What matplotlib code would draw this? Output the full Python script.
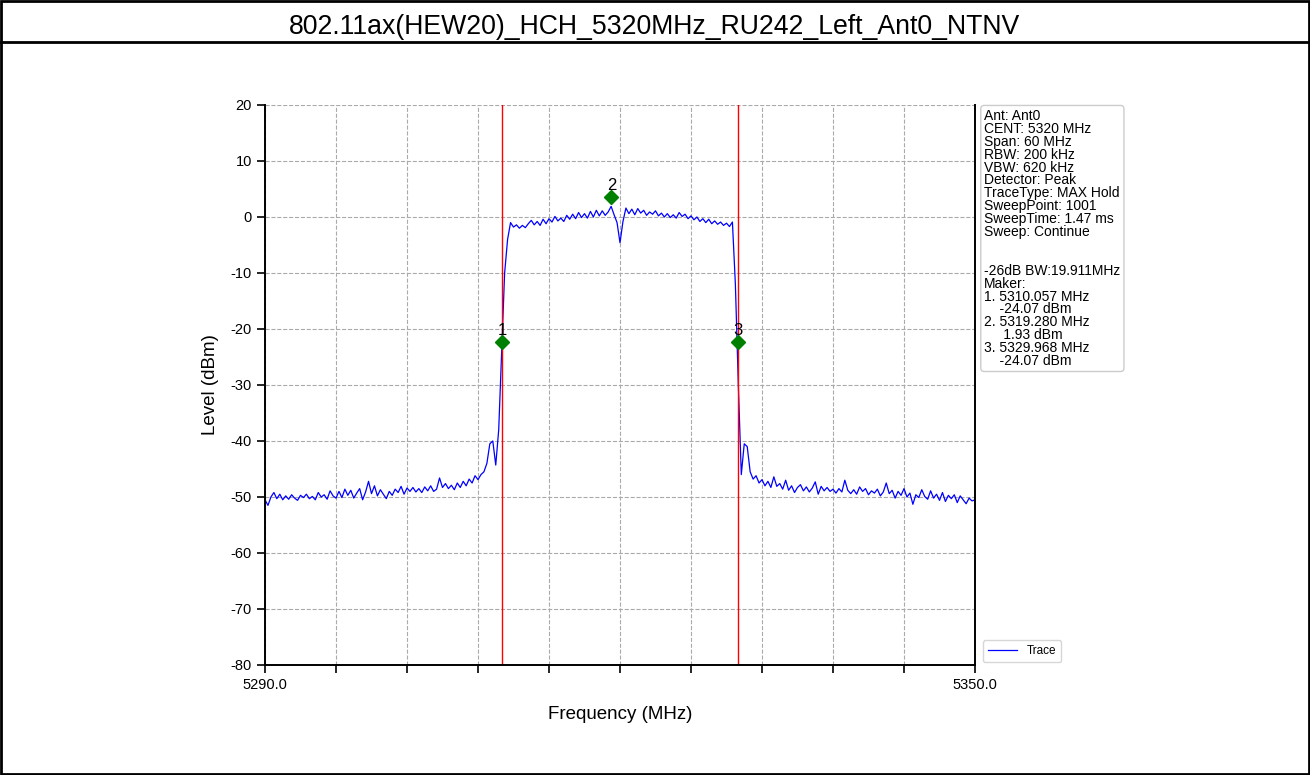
import matplotlib
matplotlib.use("Agg")
import matplotlib.pyplot as plt
from matplotlib.patches import Rectangle
from matplotlib.lines import Line2D

plt.rcParams['font.family'] = ['Liberation Sans', 'DejaVu Sans']
plt.rcParams['axes.unicode_minus'] = False

title = "802.11ax(HEW20)_HCH_5320MHz_RU242_Left_Ant0_NTNV"

f_start = 5290.0
f_step = 0.25
level = [
    -50.5, -51.5, -50.0, -49.2, -50.3, -49.5, -50.5, -49.8, -50.4, -49.6,
    -50.2, -50.6, -49.7, -50.1, -49.5, -50.3, -49.9, -50.5, -49.2, -50.0,
    -49.6, -50.4, -48.9, -49.8, -50.2, -49.0, -50.1, -48.6, -49.7, -48.8,
    -50.2, -49.3, -48.5, -50.5, -49.1, -47.2, -49.4, -48.0, -49.8, -48.7,
    -49.5, -50.3, -49.0, -49.7, -48.6, -49.2, -48.1, -49.5, -48.4, -49.0,
    -48.3, -49.1, -48.5, -49.2, -48.2, -48.9, -48.0, -49.0, -48.6, -46.6,
    -48.3, -47.6, -48.5, -47.9, -48.7, -47.5, -48.3, -47.2, -48.0, -46.8,
    -47.5, -46.2, -46.9, -46.0, -45.5, -44.0, -40.5, -40.0, -44.3, -38.0,
    -24.0, -10.0, -4.0, -1.0, -1.8, -1.4, -2.0, -1.5, -1.9, -1.2,
    -0.6, -1.4, -0.8, -1.5, -0.4, -1.2, -0.3, -0.9, 0.1, -0.7,
    -0.2, -0.8, 0.3, -0.4, 0.5, -0.3, 0.8, -0.1, 0.6, -0.2,
    1.0, 0.0, 1.2, 0.2, 1.1, 0.3, 0.9, 1.9, 0.4, -1.0,
    -4.6, -0.8, 1.6, 0.6, 1.4, 0.4, 1.5, 0.7, 1.2, 0.3,
    0.9, 0.5, 1.1, 0.2, 0.7, 0.0, 0.6, -0.1, 0.4, -0.2,
    0.8, 0.1, 0.5, -0.3, 0.2, -0.5, 0.0, -0.8, -0.3, -1.0,
    -0.4, -1.2, -0.7, -1.3, -0.9, -1.5, -1.1, -1.7, -0.9, -12.0,
    -30.0, -46.0, -40.5, -41.0, -45.5, -46.8, -46.2, -47.5, -46.9, -48.0,
    -47.2, -48.3, -46.4, -48.1, -47.6, -48.6, -47.0, -48.8, -48.0, -49.2,
    -48.3, -47.8, -48.9, -48.2, -49.1, -48.4, -47.3, -49.5, -48.1, -48.9,
    -48.3, -49.0, -48.6, -49.3, -48.5, -49.1, -47.0, -48.8, -49.4, -48.7,
    -49.5, -48.2, -49.0, -48.5, -49.6, -48.9, -49.3, -48.6, -49.8, -49.1,
    -47.5, -49.4, -48.8, -50.2, -49.0, -49.7, -48.5, -50.0, -49.3, -51.3,
    -49.6, -50.1, -48.7, -49.9, -50.4, -48.9, -50.2, -49.5, -50.6, -49.2,
    -50.8, -49.7, -50.3, -49.6, -51.0, -49.8, -50.5, -51.2, -50.2, -50.7,
    -50.5,
]
freq = [f_start + f_step * i for i in range(len(level))]

marker_freq = [5310.057, 5319.280, 5329.968]
marker_plot_level = [-22.4, 3.5, -22.4]
marker_names = ["1", "2", "3"]
bw_lines = [5310.057, 5329.968]

x_ticks = [5290 + 6 * i for i in range(11)]
x_tick_labels = ["5290.0"] + [""] * 9 + ["5350.0"]
y_ticks = list(range(-80, 21, 10))

info_text = ("Ant: Ant0\nCENT: 5320 MHz\nSpan: 60 MHz\nRBW: 200 kHz\nVBW: 620 kHz\n"
             "Detector: Peak\nTraceType: MAX Hold\nSweepPoint: 1001\nSweepTime: 1.47 ms\n"
             "Sweep: Continue\n\n\n-26dB BW:19.911MHz\nMaker:\n1. 5310.057 MHz\n    -24.07 dBm\n"
             "2. 5319.280 MHz\n     1.93 dBm\n3. 5329.968 MHz\n    -24.07 dBm")

W, H = 1310, 775
fig = plt.figure(figsize=(W / 100, H / 100), dpi=100)
fig.patch.set_facecolor("white")

# frame and header
fig.patches.append(Rectangle((1 / W, 1 / H), 1 - 2 / W, 1 - 2 / H, transform=fig.transFigure,
                             fill=False, edgecolor="black", linewidth=2))
fig.lines.append(Line2D([0, 1], [1 - 42 / H, 1 - 42 / H], transform=fig.transFigure,
                        color="black", linewidth=2))
fig.text(0.5, 1 - 27 / H, title, ha="center", va="center", fontsize=19.2)

ax = fig.add_axes([265 / W, 1 - 665 / H, 710 / W, 560 / H])
ax.plot(freq, level, color="blue", linewidth=0.9, label="Trace")
for bx in bw_lines:
    ax.axvline(bx, color="red", linewidth=1.0)
ax.plot(marker_freq, marker_plot_level, linestyle="none", marker="D", color="green",
        markersize=7)
for mf, ml, mn in zip(marker_freq, marker_plot_level, marker_names):
    ax.text(mf, ml + 0.8, mn, ha="center", va="bottom", fontsize=12)

ax.set_xlim(5290, 5350)
ax.set_ylim(-80, 20)
ax.set_xticks(x_ticks)
ax.set_xticklabels(x_tick_labels)
ax.set_yticks(y_ticks)
ax.tick_params(axis="both", labelsize=10.5, length=6, width=1.2, direction="out")
ax.grid(True, linestyle="--", color="#aaaaaa", linewidth=0.8)
for side in ["left", "bottom", "right"]:
    ax.spines[side].set_linewidth(1.4)
ax.spines["top"].set_visible(False)
ax.set_xlabel("Frequency (MHz)", fontsize=13.5, labelpad=10)
ax.set_ylabel("Level (dBm)", fontsize=13.5, labelpad=8)

ax.text(1.013, 0.993, info_text, transform=ax.transAxes, ha="left", va="top",
        fontsize=10, linespacing=0.9,
        bbox=dict(boxstyle="round,pad=0.25", facecolor="white", edgecolor="#cccccc"))

ax.legend(loc="lower left", bbox_to_anchor=(1.003, -0.005), fontsize=8.5,
          frameon=True, handlelength=2.5)

fig.savefig("out.png", dpi=100)
